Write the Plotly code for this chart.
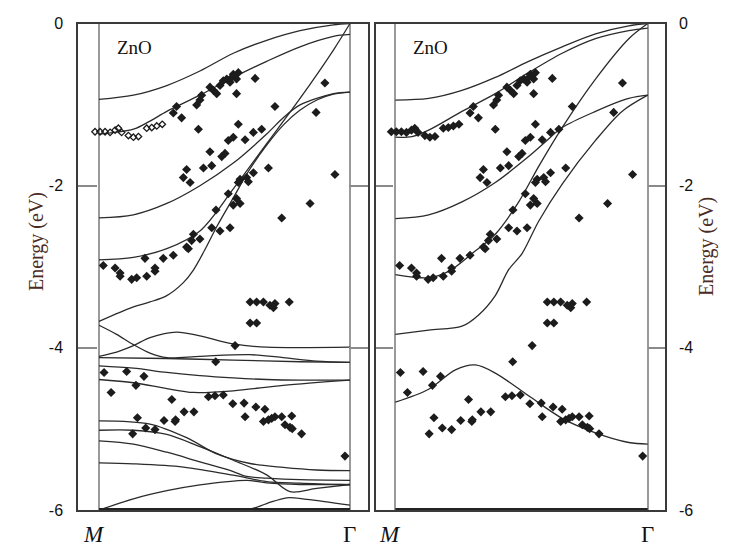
import plotly.graph_objects as go

# k-path coordinate: 0 = M, 1 = Gamma ; energies in eV
# ---------------- left panel bands ----------------
L1_x = [0, 0.137, 0.270, 0.402, 0.535, 0.668, 0.801, 0.934, 1.0]
L1_E = [-0.936, -0.884, -0.765, -0.586, -0.367, -0.207, -0.088, -0.016, 0.0]
L2_x = [0, 0.137, 0.203, 0.270, 0.402, 0.535, 0.668, 0.801, 0.934, 1.0]
L2_E = [-1.363, -1.303, -1.203, -1.084, -0.884, -0.665, -0.466, -0.287, -0.159, -0.135]
L3_x = [0, 0.137, 0.270, 0.402, 0.535, 0.668, 0.734, 0.801, 0.934, 1.0]
L3_E = [-2.398, -2.359, -2.219, -2.0, -1.721, -1.363, -1.163, -1.004, -0.865, -0.845]
L4_x = [0, 0.137, 0.270, 0.402, 0.535, 0.668, 0.801, 0.934, 1.0]
L4_E = [-2.916, -2.884, -2.777, -2.558, -2.040, -1.482, -0.924, -0.327, 0.0]
L5_x = [0, 0.137, 0.203, 0.270, 0.336, 0.376, 0.42, 0.47, 0.535, 0.60, 0.668, 0.735, 0.80, 0.87, 0.934, 1.0]
L5_E = [-3.673, -3.494, -3.434, -3.355, -3.195, -3.04, -2.80, -2.50, -2.15, -1.80, -1.50, -1.25, -1.07, -0.94, -0.87, -0.845]
L6_x = [0, 0.070, 0.137, 0.203, 0.270, 0.402, 0.601, 0.734, 0.867, 1.0]
L6_E = [-3.721, -3.833, -3.960, -4.064, -4.120, -4.104, -4.084, -4.120, -4.163, -4.179]
L7_x = [0, 0.070, 0.137, 0.203, 0.309, 0.402, 0.535, 0.668, 1.0]
L7_E = [-4.104, -4.052, -3.972, -3.873, -3.805, -3.853, -3.952, -3.992, -3.992]
L8_x = [0, 0.270, 0.535, 0.801, 1.0]
L8_E = [-4.120, -4.131, -4.151, -4.171, -4.179]
L9_x = [0, 0.137, 0.270, 0.402, 0.535, 0.668, 0.801, 1.0]
L9_E = [-4.223, -4.251, -4.303, -4.343, -4.371, -4.390, -4.398, -4.398]
L10_x = [0, 0.137, 0.270, 0.376, 0.535, 0.734, 1.0]
L10_E = [-4.390, -4.430, -4.502, -4.550, -4.530, -4.462, -4.398]
L11_x = [0, 0.203, 0.349, 0.469, 0.602, 0.734, 0.867, 1.0]
L11_E = [-4.900, -4.940, -5.108, -5.307, -5.426, -5.474, -5.506, -5.514]
L12_x = [0, 0.137, 0.270, 0.402, 0.535, 0.668, 0.761, 0.867, 1.0]
L12_E = [-5.016, -5.016, -5.068, -5.219, -5.386, -5.566, -5.773, -5.733, -5.685]
L13_x = [0, 0.137, 0.270, 0.402, 0.535, 0.588, 0.668, 0.801, 1.0]
L13_E = [-5.147, -5.187, -5.287, -5.406, -5.526, -5.586, -5.606, -5.625, -5.633]
L14_x = [0, 0.137, 0.336, 0.535, 0.668, 0.801, 1.0]
L14_E = [-5.418, -5.430, -5.470, -5.570, -5.649, -5.669, -5.689]
L15_x = [0, 0.137, 0.270, 0.402, 0.588, 0.668, 0.801, 1.0]
L15_E = [-6.0, -5.861, -5.761, -5.689, -5.633, -5.665, -5.685, -5.685]
L16_x = [0, 0.588, 0.668, 0.748, 0.828, 1.0]
L16_E = [-6.0, -6.0, -5.920, -5.849, -5.869, -5.940]
FLAT_x = [0, 1.0]
FLAT_E = [-6.0, -6.0]

# ---------------- right panel bands ----------------
R1_x = [0, 0.132, 0.264, 0.396, 0.528, 0.661, 0.793, 0.925, 1.0]
R1_E = [-0.944, -0.924, -0.825, -0.665, -0.466, -0.287, -0.127, -0.028, 0.0]
R2_x = [0, 0.066, 0.132, 0.264, 0.396, 0.528, 0.661, 0.793, 0.925, 1.0]
R2_E = [-1.402, -1.394, -1.315, -1.084, -0.865, -0.606, -0.367, -0.187, -0.088, -0.056]
R3_x = [0, 0.132, 0.264, 0.396, 0.528, 0.594, 0.661, 0.793, 0.925, 1.0]
R3_E = [-2.406, -2.359, -2.199, -1.960, -1.641, -1.462, -1.283, -1.084, -0.924, -0.884]
R4_x = [0, 0.132, 0.211, 0.304, 0.396, 0.489, 0.568, 0.661, 0.793, 0.925, 1.0]
R4_E = [-3.096, -3.135, -3.056, -2.837, -2.598, -2.199, -1.761, -1.283, -0.685, -0.187, 0.0]
R5_x = [0, 0.132, 0.264, 0.330, 0.396, 0.449, 0.502, 0.568, 0.661, 0.793, 0.898, 1.0]
R5_E = [-3.833, -3.781, -3.733, -3.594, -3.355, -3.036, -2.837, -2.438, -1.980, -1.442, -1.084, -0.884]
R6_x = [0, 0.132, 0.238, 0.317, 0.396, 0.528, 0.661, 0.793, 0.925, 1.0]
R6_E = [-4.669, -4.510, -4.271, -4.211, -4.311, -4.590, -4.869, -5.048, -5.167, -5.187]

# ---------------- experimental points (same in both panels) ----------------
DOT_X = [0.296, 0.309, 0.329, 0.389, 0.402, 0.409, 0.442, 0.456, 0.469, 0.482, 0.495, 0.509, 0.522, 0.529,
         0.535, 0.548, 0.555, 0.548, 0.622, 0.900,
         0.396, 0.555, 0.515, 0.535, 0.582, 0.615, 0.648, 0.701, 0.865, 0.442, 0.489, 0.502, 0.449, 0.416,
         0.349, 0.336, 0.363, 0.562, 0.615, 0.588, 0.675, 0.940, 0.555, 0.595,
         0.515, 0.548, 0.535, 0.562, 0.466, 0.728, 0.841, 0.376, 0.369, 0.402, 0.349, 0.356, 0.449, 0.482,
         0.522, 0.296, 0.256, 0.183, 0.223, 0.017, 0.064, 0.084, 0.084, 0.130, 0.150, 0.190, 0.223,
         0.602, 0.628, 0.655, 0.681, 0.695, 0.701, 0.758, 0.602, 0.628, 0.542, 0.465, 0.020, 0.110, 0.179,
         0.147, 0.048, 0.290, 0.436, 0.462, 0.495, 0.533, 0.578, 0.625, 0.661, 0.153, 0.186, 0.223, 0.134,
         0.259, 0.303, 0.305, 0.339, 0.378, 0.582, 0.655, 0.675, 0.688, 0.701, 0.728, 0.768, 0.741, 0.761,
         0.770, 0.807, 0.980]
DOT_E = [-1.104, -1.024, -1.163, -1.004, -0.944, -0.884, -0.785, -0.825, -0.865, -0.765, -0.705, -0.685,
         -0.725, -0.665, -0.625, -0.685, -0.606, -0.865, -0.677, -0.733,
         -1.303, -1.243, -1.442, -1.402, -1.434, -1.343, -1.303, -1.024, -1.096, -1.582, -1.641, -1.602,
         -1.753, -1.781, -1.801, -1.900, -1.960, -1.920, -1.841, -1.900, -1.781, -1.861, -1.960, -1.952,
         -2.100, -2.159, -2.239, -2.219, -2.299, -2.398, -2.219, -2.598, -2.677, -2.657, -2.757, -2.777,
         -2.518, -2.558, -2.518, -2.857, -2.896, -2.896, -3.016, -2.984, -3.016, -3.076, -3.116, -3.155,
         -3.135, -3.116, -3.056,
         -3.434, -3.434, -3.434, -3.474, -3.506, -3.454, -3.434, -3.693, -3.693, -3.972, -4.171, -4.303,
         -4.291, -4.351, -4.462, -4.550, -4.637, -4.602, -4.590, -4.582, -4.689, -4.681, -4.729, -4.757,
         -4.861, -4.988, -5.008, -5.060, -4.896, -4.908, -4.888, -4.789, -4.789, -4.849, -4.908, -4.888,
         -4.869, -4.849, -4.849, -4.841, -4.948, -4.980, -4.996, -5.060, -5.335]
OPEN_X = [-0.016, 0.004, 0.024, 0.044, 0.064, 0.077, 0.090, 0.117, 0.137, 0.157, 0.190, 0.210, 0.230, 0.252]
OPEN_E = [-1.335, -1.335, -1.335, -1.343, -1.315, -1.291, -1.343, -1.382, -1.402, -1.394, -1.291, -1.283,
          -1.263, -1.243]

Y_TICKS = [0, -2, -4, -6]
Y_TICKTEXT = ["0", "-2", "-4", "-6"]
K_LABELS = ["<i>M</i>", "Γ"]
PANEL_LABEL = "ZnO"
Y_TITLE = "Energy (eV)"

LEFT_BANDS = [(L1_x, L1_E), (L2_x, L2_E), (L3_x, L3_E), (L4_x, L4_E), (L5_x, L5_E), (L6_x, L6_E),
              (L7_x, L7_E), (L8_x, L8_E), (L9_x, L9_E), (L10_x, L10_E), (L11_x, L11_E), (L12_x, L12_E),
              (L13_x, L13_E), (L14_x, L14_E), (L15_x, L15_E), (L16_x, L16_E)]
RIGHT_BANDS = [(R1_x, R1_E), (R2_x, R2_E), (R3_x, R3_E), (R4_x, R4_E), (R5_x, R5_E), (R6_x, R6_E)]

LINE_COLOR = "#2b2b2b"
DOT_COLOR = "#1c1c1c"

fig = go.Figure()


def add_bands(bands, xa, ya):
    for bx, be in bands:
        fig.add_trace(go.Scatter(x=bx, y=be, mode="lines", xaxis=xa, yaxis=ya, hoverinfo="skip",
                                 line=dict(color=LINE_COLOR, width=1.3, shape="spline", smoothing=0.9)))
    fig.add_trace(go.Scatter(x=FLAT_x, y=FLAT_E, mode="lines", xaxis=xa, yaxis=ya, hoverinfo="skip",
                             line=dict(color="#222222", width=4)))


add_bands(LEFT_BANDS, "x", "y")
add_bands(RIGHT_BANDS, "x2", "y2")

# left panel points
fig.add_trace(go.Scatter(x=DOT_X, y=DOT_E, mode="markers", xaxis="x", yaxis="y",
                         marker=dict(symbol="diamond", size=7, color=DOT_COLOR)))
fig.add_trace(go.Scatter(x=OPEN_X, y=OPEN_E, mode="markers", xaxis="x", yaxis="y",
                         marker=dict(symbol="diamond-open", size=5, color=DOT_COLOR,
                                     line=dict(width=1.3, color=DOT_COLOR))))
# right panel points
fig.add_trace(go.Scatter(x=DOT_X + OPEN_X, y=DOT_E + OPEN_E, mode="markers", xaxis="x2", yaxis="y2",
                         marker=dict(symbol="diamond", size=7, color=DOT_COLOR)))

Y_DOMAIN = [0.0616, 0.971]
common_x = dict(showgrid=True, gridcolor="#9a9a9a", gridwidth=1.6, tickvals=[0, 1], showticklabels=False,
                ticks="", zeroline=False, showline=True, mirror=True, linecolor="#3a3a3a", linewidth=1.5,
                fixedrange=True)
common_y = dict(range=[-6, 0], tickvals=Y_TICKS, ticktext=Y_TICKTEXT, ticks="inside", tickwidth=1.6,
                tickcolor="#8a8a8a", showline=True, mirror="ticks", linecolor="#3a3a3a", linewidth=1.5,
                showgrid=False, zeroline=False, domain=Y_DOMAIN,
                tickfont=dict(family="Liberation Sans, Arial, sans-serif", size=16, color="#111111"))

fig.update_layout(
    width=732, height=552, margin=dict(l=0, r=0, t=0, b=0),
    paper_bgcolor="white", plot_bgcolor="white", showlegend=False,
    xaxis=dict(domain=[0.1066, 0.5027], range=[-0.0837, 1.0717], anchor="y", **common_x),
    xaxis2=dict(domain=[0.5137, 0.9085], range=[-0.0765, 1.0685], anchor="y2", **common_x),
    yaxis=dict(anchor="x", side="left", ticklen=19, ticklabelstandoff=10, **common_y),
    yaxis2=dict(anchor="x2", side="right", ticklen=17, ticklabelstandoff=9, **common_y),
)

serif = "Liberation Serif, Times New Roman, serif"
annots = []
for xa in ["x", "x2"]:
    annots.append(dict(x=0, y=-6, xref=xa, yref="y", text=K_LABELS[0], showarrow=False,
                       yshift=-24, xshift=-5, font=dict(family=serif, size=23, color="#111111")))
    annots.append(dict(x=1, y=-6, xref=xa, yref="y", text=K_LABELS[1], showarrow=False,
                       yshift=-24, font=dict(family=serif, size=23, color="#111111")))
    annots.append(dict(x=0.14, y=-0.29, xref=xa, yref="y", text=PANEL_LABEL, showarrow=False,
                       font=dict(family=serif, size=19, color="#111111")))
annots.append(dict(x=23, y=552 - 241, xref="paper", yref="paper", text=Y_TITLE, textangle=-90,
                   showarrow=False, font=dict(family=serif, size=20, color="#4a2a22")))
annots.append(dict(x=720, y=552 - 246, xref="paper", yref="paper", text=Y_TITLE, textangle=-90,
                   showarrow=False, font=dict(family=serif, size=20, color="#4a2a22")))
# convert pixel-based paper positions for the axis titles
for a in annots:
    if a.get("xref") == "paper":
        a["x"] = a["x"] / 732
        a["y"] = a["y"] / 552
fig.update_layout(annotations=annots)

fig.write_html("out.html")
